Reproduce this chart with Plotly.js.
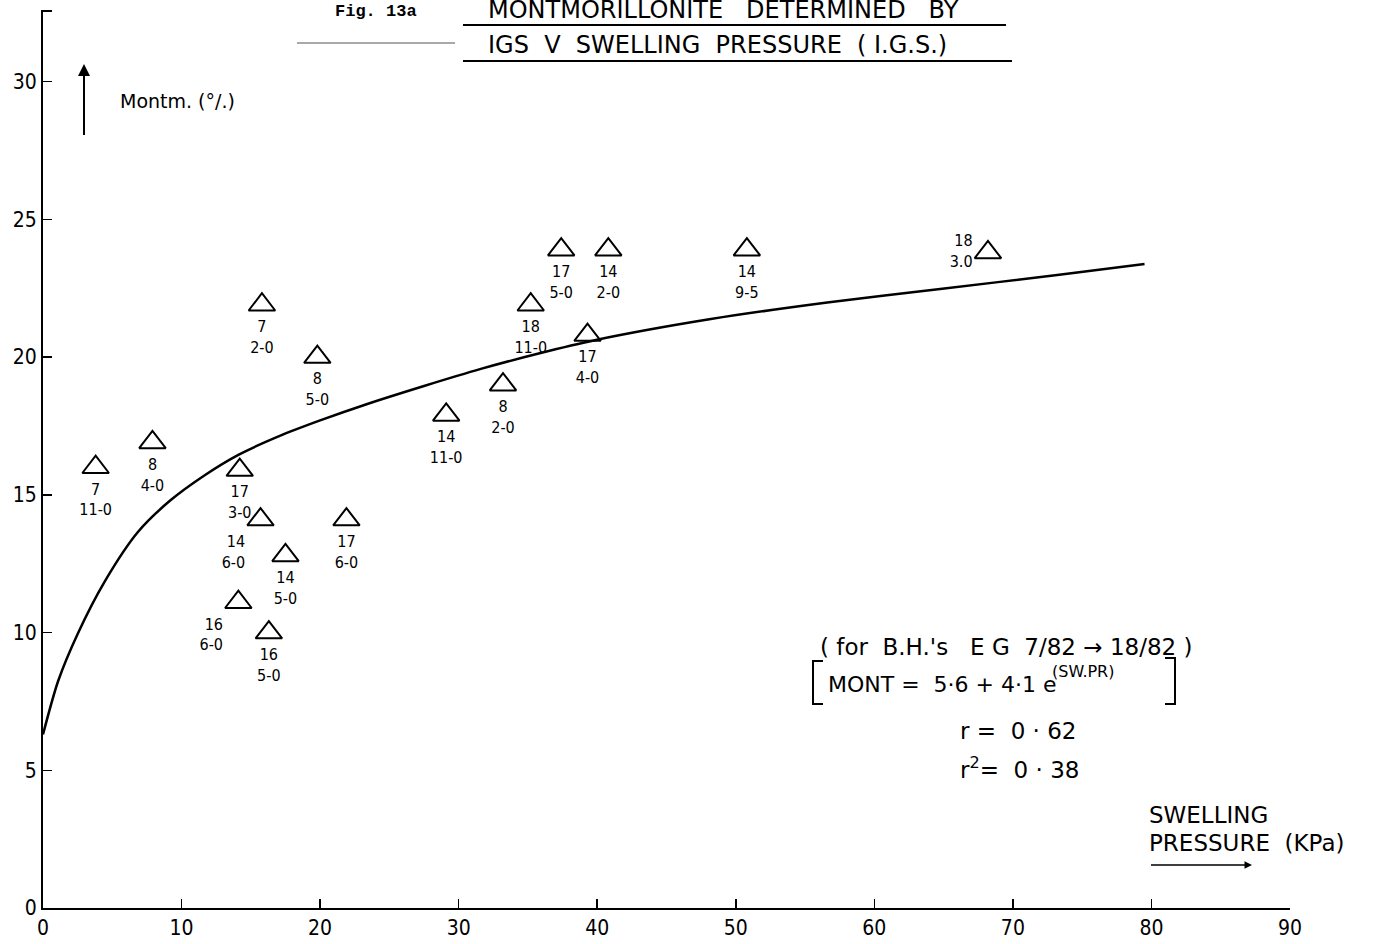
<!DOCTYPE html>
<html>
<head>
<meta charset="utf-8">
<script src="https://cdn.plot.ly/plotly-3.0.1.min.js"></script>
<style>html,body{margin:0;padding:0;background:#fff;}#chart{width:1377px;height:944px;}</style>
</head>
<body>
<div id="chart"></div>
<script>
// Observed data points (swelling pressure kPa, montmorillonite %)
var pressure = [3.8, 7.9, 15.8, 19.8, 14.2, 15.7, 17.5, 21.9, 14.1, 16.3, 29.1, 33.2, 35.2, 37.4, 40.8, 39.3, 50.8, 68.2];
var mont     = [16.0, 16.9, 21.9, 20.0, 15.9, 14.1, 12.8, 14.1, 11.1, 10.0, 17.9, 19.0, 21.9, 23.9, 23.9, 20.8, 23.9, 23.8];
var borehole = ['7','8','7','8','17','14','14','17','16','16','14','8','18','17','14','17','14','18'];
var depth    = ['11-0','4-0','2-0','5-0','3-0','6-0','5-0','6-0','6-0','5-0','11-0','2-0','11-0','5-0','2-0','4-0','9-5','3.0'];

// Fitted curve
var curveX = [0, 1.1, 2.5, 4.45, 6.85, 9.2, 11.7, 14.1, 17, 20, 23.3, 27.5, 31.6, 35.7, 39.9, 48.2, 56.6, 64.9, 73.2, 79.5];
var curveY = [6.3, 8.25, 9.95, 11.85, 13.65, 14.8, 15.72, 16.45, 17.12, 17.7, 18.28, 18.95, 19.57, 20.12, 20.62, 21.38, 21.98, 22.48, 22.98, 23.38];

var xTicks = [0,10,20,30,40,50,60,70,80,90];
var yTicks = [0,5,10,15,20,25,30];

// ---- styling / layout ----
var FONT = 'DejaVu Sans, sans-serif';
var NARROW = 'DejaVu Sans Condensed, DejaVu Sans, sans-serif';
var MONO = 'Liberation Mono, DejaVu Sans Mono, Courier New, monospace';
var L = 43, R = 1290, T = 10, B = 908;
function px(x){ return (x - L) / (R - L); }
function py(y){ return (B - y) / (B - T); }

var labels = borehole.map(function(b, i){ return b + '<br>' + depth[i]; });
var specialPlacement = {5:'bottom left', 8:'bottom left', 17:'middle left'};
var textpos = labels.map(function(_, i){ return specialPlacement[i] || 'bottom center'; });

var traces = [
  {
    x: curveX, y: curveY, mode: 'lines', type: 'scatter',
    line: {color: '#000', width: 2.5, shape: 'spline', smoothing: 0.8},
    hoverinfo: 'skip', showlegend: false
  },
  {
    x: pressure, y: mont, mode: 'markers+text', type: 'scatter',
    text: labels, textposition: textpos,
    textfont: {family: NARROW, size: 16, color: '#000'},
    marker: {symbol: 'triangle-up-open', size: 23, color: '#000', line: {color: '#000', width: 2}},
    showlegend: false
  }
];

function txt(text, x, y, size, xanchor, family){
  return {text: text, xref: 'paper', yref: 'paper', x: px(x), y: py(y),
          xanchor: xanchor || 'left', yanchor: 'middle', showarrow: false,
          font: {family: family || FONT, size: size || 20, color: '#000'}};
}
function line(x0, y0, x1, y1, w, c){
  return {type: 'line', xref: 'paper', yref: 'paper', x0: px(x0), y0: py(y0), x1: px(x1), y1: py(y1),
          line: {color: c || '#000', width: w || 2}};
}

var annotations = [
  txt('<b>Fig. 13a</b>', 333, 12, 17, 'left', MONO),
  txt('MONTMORILLONITE   DETERMINED   BY', 486, 10, 24),
  txt('IGS  V  SWELLING  PRESSURE  ( I.G.S.)', 486, 45, 24),
  txt('Montm. (°/.)', 118, 101, 19),
  {text: ' ', xref: 'paper', yref: 'paper', x: px(84), y: py(64), ax: 0, ay: 78,
   showarrow: true, arrowhead: 2, arrowsize: 1.2, arrowwidth: 2, arrowcolor: '#000',
   font: {size: 10}},
  txt('( for  B.H.\'s   E G  7/82 → 18/82 )', 818, 647, 23),
  txt('MONT =  5·6 + 4·1 e', 826, 684, 22),
  txt('(SW.PR)', 1050, 671, 16),
  txt('r =  0 · 62', 958, 731, 23),
  txt('r<sup>2</sup>=  0 · 38', 958, 768, 23),
  txt('SWELLING', 1147, 815, 23),
  txt('PRESSURE  (KPa)', 1147, 843, 23),
  {text: ' ', xref: 'paper', yref: 'paper', x: px(1252), y: py(865), ax: -104, ay: 0,
   showarrow: true, arrowhead: 2, arrowsize: 1, arrowwidth: 1.5, arrowcolor: '#000',
   font: {size: 10}}
];

var shapes = [
  line(463, 25, 1006, 25, 2),
  line(463, 61, 1012, 61, 2),
  line(297, 43, 455, 43, 1, '#555'),
  // brackets around formula
  {type: 'path', xref: 'paper', yref: 'paper',
   path: 'M ' + px(823) + ',' + py(661) + ' L ' + px(813) + ',' + py(661) + ' L ' + px(813) + ',' + py(704) + ' L ' + px(823) + ',' + py(704),
   line: {color: '#000', width: 2}},
  {type: 'path', xref: 'paper', yref: 'paper',
   path: 'M ' + px(1165) + ',' + py(658) + ' L ' + px(1175) + ',' + py(658) + ' L ' + px(1175) + ',' + py(704) + ' L ' + px(1165) + ',' + py(704),
   line: {color: '#000', width: 2}},
  // small top tick of y-axis
  line(43, 11, 52, 11, 2)
];

var layout = {
  width: 1377, height: 944,
  margin: {l: L, r: 1377 - R, t: T, b: 944 - B, pad: 0},
  paper_bgcolor: '#fff', plot_bgcolor: '#fff',
  font: {family: FONT, size: 21, color: '#000'},
  showlegend: false,
  xaxis: {
    range: [0, 90], tickvals: xTicks, ticktext: xTicks.map(String),
    showline: true, linecolor: '#000', linewidth: 2, mirror: false,
    ticks: 'inside', ticklen: 9, tickwidth: 1.5, tickcolor: '#000',
    showgrid: false, zeroline: false,
    tickfont: {family: NARROW, size: 21, color: '#000'}
  },
  yaxis: {
    range: [0, 32.6], tickvals: yTicks, ticktext: yTicks.map(String),
    showline: true, linecolor: '#000', linewidth: 2, mirror: false,
    ticks: 'inside', ticklen: 9, tickwidth: 1.5, tickcolor: '#000',
    showgrid: false, zeroline: false,
    tickfont: {family: NARROW, size: 21, color: '#000'}
  },
  annotations: annotations,
  shapes: shapes
};

Plotly.newPlot('chart', traces, layout, {displayModeBar: false, staticPlot: true});
</script>
</body>
</html>
